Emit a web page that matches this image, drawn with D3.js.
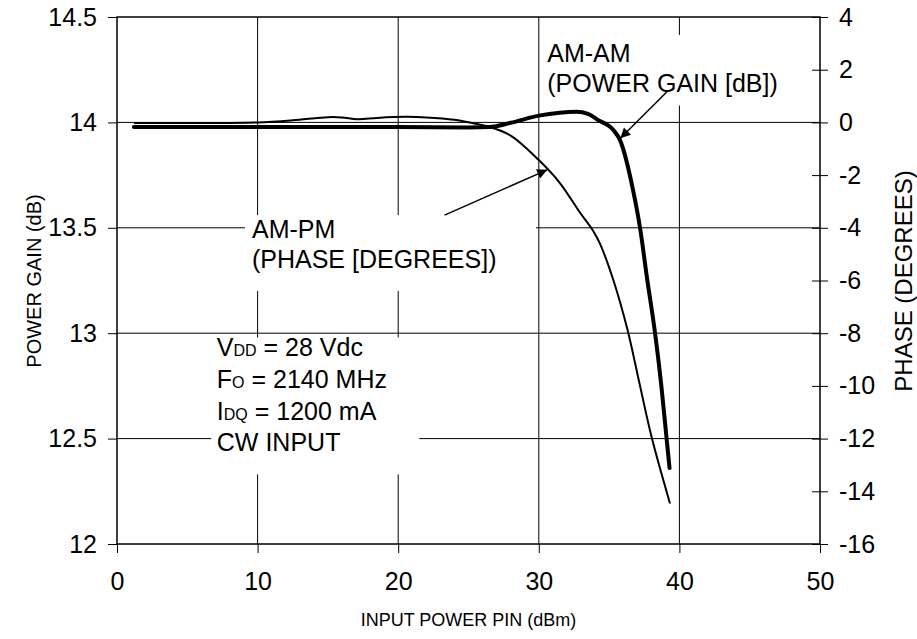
<!DOCTYPE html>
<html>
<head>
<meta charset="utf-8">
<script src="https://cdn.jsdelivr.net/npm/d3@7"></script>
<style>
  body { margin: 0; background: #fff; }
  text { font-family: "Liberation Sans", Arial, sans-serif; fill: #000; }
</style>
</head>
<body>
<div id="chart"></div>
<script>
// values
var pinTicks = [0, 10, 20, 30, 40, 50];
var gainTicks = [12, 12.5, 13, 13.5, 14, 14.5];
var phaseTicks = [-16, -14, -12, -10, -8, -6, -4, -2, 0, 2, 4];

// AM-AM : power gain (dB) vs input power (dBm)
var gainPin = [1.2, 5, 10, 15, 20, 25, 26.5, 28, 30, 31.5, 32.7, 33.5, 34.2, 35.3, 35.77, 36.7, 37.2, 37.7, 38.27, 38.7, 39.09, 39.3];
var gainDb  = [13.978, 13.978, 13.978, 13.978, 13.978, 13.976, 13.978, 13.998, 14.032, 14.046, 14.05, 14.04, 14.012, 13.964, 13.917, 13.68, 13.5, 13.26, 13.0, 12.76, 12.5, 12.36];

// AM-PM : phase (degrees) vs input power (dBm)
var phasePin = [1.2, 5, 10, 12.5, 15, 16, 17.1, 18.5, 20.5, 22, 24, 25.5, 26.5, 28, 30, 31.5, 32.9, 33.85, 34.35, 35.3, 36.3, 37.2, 38.05, 39.33];
var phaseDeg = [-0.02, -0.02, 0.0, 0.08, 0.2, 0.19, 0.12, 0.17, 0.21, 0.19, 0.1, -0.05, -0.17, -0.5, -1.43, -2.3, -3.4, -4.1, -4.6, -5.98, -7.85, -10.0, -12.0, -14.46];

// test conditions
var condLines = [
  ["V", "DD", " = 28 Vdc"],
  ["F", "O", " = 2140 MHz"],
  ["I", "DQ", " = 1200 mA"],
  ["CW INPUT", "", ""]
];

var margin = { top: 17, right: 97, bottom: 95, left: 117 },
  width = 917 - margin.left - margin.right,
  height = 639 - margin.top - margin.bottom;

var svg = d3.select("#chart").append("svg")
  .attr("width", 917)
  .attr("height", 639);

var g = svg.append("g")
  .attr("transform", "translate(" + margin.left + "," + margin.top + ")");

var x = d3.scaleLinear().domain([0, 50]).range([0, width]);
var yGain = d3.scaleLinear().domain([12, 14.5]).range([height, 0]);
var yPhase = d3.scaleLinear().domain([-16, 4]).range([height, 0]);

// grid
g.append("g").selectAll("line")
  .data(pinTicks.slice(1, -1))
  .enter().append("line")
    .attr("x1", function (d) { return x(d); })
    .attr("x2", function (d) { return x(d); })
    .attr("y1", 0).attr("y2", height)
    .attr("stroke", "#000").attr("stroke-width", 1);

g.append("g").selectAll("line")
  .data(gainTicks.slice(1, -1))
  .enter().append("line")
    .attr("x1", 0).attr("x2", width)
    .attr("y1", function (d) { return yGain(d); })
    .attr("y2", function (d) { return yGain(d); })
    .attr("stroke", "#000").attr("stroke-width", 1);

// white boxes behind the labels hide the grid
function blank(x0, y0, x1, y1) {
  g.append("rect")
    .attr("x", x(x0)).attr("y", yGain(y0))
    .attr("width", x(x1) - x(x0)).attr("height", yGain(y1) - yGain(y0))
    .attr("fill", "#fff");
}
blank(30.1, 14.415, 47.5, 14.08);   // AM-AM label
blank(9.1, 13.56, 29.8, 13.2);      // AM-PM label
blank(6.7, 12.98, 21.5, 12.33);     // conditions

// frame
g.append("rect")
  .attr("width", width).attr("height", height)
  .attr("fill", "none").attr("stroke", "#000").attr("stroke-width", 1.5);

// axes
var fs = "25px";
var axL = g.append("g")
  .call(d3.axisLeft(yGain).tickValues(gainTicks).tickSize(9).tickPadding(11)
    .tickFormat(function (d) { return d3.format("")(d); }));
var axR = g.append("g")
  .attr("transform", "translate(" + width + ",0)")
  .call(d3.axisRight(yPhase).tickValues(phaseTicks).tickSize(8).tickPadding(11));
var axB = g.append("g")
  .attr("transform", "translate(0," + height + ")")
  .call(d3.axisBottom(x).tickValues(pinTicks).tickSize(9).tickPadding(19));

[axL, axR, axB].forEach(function (a) {
  a.select(".domain").remove();
  a.selectAll(".tick line").attr("stroke", "#000").attr("stroke-width", 1);
  a.selectAll("text")
    .style("font-family", "'Liberation Sans', Arial, sans-serif")
    .style("font-size", fs).attr("fill", "#000");
});
axR.selectAll(".tick line").attr("x1", -8);
axR.selectAll("text").text(function (d) { return d < 0 ? "-" + Math.abs(d) : d; });

// curves
var gainData = gainPin.map(function (p, i) { return [p, gainDb[i]]; });
var phaseData = phasePin.map(function (p, i) { return [p, phaseDeg[i]]; });

g.append("path")
  .datum(phaseData)
  .attr("fill", "none").attr("stroke", "#000").attr("stroke-width", 2)
  .attr("d", d3.line()
    .curve(d3.curveCatmullRom.alpha(0.5))
    .x(function (d) { return x(d[0]); })
    .y(function (d) { return yPhase(d[1]); }));

g.append("path")
  .datum(gainData)
  .attr("fill", "none").attr("stroke", "#000").attr("stroke-width", 4)
  .attr("stroke-linecap", "round")
  .attr("d", d3.line()
    .curve(d3.curveMonotoneX)
    .x(function (d) { return x(d[0]); })
    .y(function (d) { return yGain(d[1]); }));

// annotations
var defs = svg.append("defs");
defs.append("marker")
  .attr("id", "arr")
  .attr("viewBox", "0 0 10 10")
  .attr("refX", 10).attr("refY", 5)
  .attr("markerWidth", 14).attr("markerHeight", 10)
  .attr("markerUnits", "userSpaceOnUse")
  .attr("orient", "auto")
  .append("path").attr("d", "M0,0 L10,5 L0,10 z").attr("fill", "#000");

function arrow(p0, v0, p1, v1) {
  g.append("line")
    .attr("x1", x(p0)).attr("y1", yGain(v0))
    .attr("x2", x(p1)).attr("y2", yGain(v1))
    .attr("stroke", "#000").attr("stroke-width", 1.5)
    .attr("marker-end", "url(#arr)");
}
arrow(39.1, 14.144, 35.8, 13.925);   // to AM-AM
arrow(23.3, 13.56, 30.6, 13.775);    // to AM-PM

function label(px, v, lines) {
  var t = g.append("text")
    .attr("x", x(px)).attr("y", yGain(v))
    .style("font-size", fs);
  lines.forEach(function (s, i) {
    t.append("tspan").attr("x", x(px)).attr("dy", i ? 30 : 0).text(s);
  });
}
label(30.6, 14.285, ["AM-AM", "(POWER GAIN [dB])"]);
label(9.6, 13.45, ["AM-PM", "(PHASE [DEGREES])"]);

condLines.forEach(function (c, i) {
  var t = g.append("text")
    .attr("x", x(7.1)).attr("y", yGain(12.89) + i * 31.7)
    .style("font-size", fs);
  t.append("tspan").text(c[0]);
  if (c[1]) t.append("tspan").style("font-size", "16px").text(c[1]);
  if (c[2]) t.append("tspan").text(c[2]);
});

// axis titles
svg.append("text")
  .attr("transform", "translate(41,281) rotate(-90)")
  .attr("text-anchor", "middle")
  .style("font-size", "20px")
  .text("POWER GAIN (dB)");

svg.append("text")
  .attr("transform", "translate(912,281) rotate(-90)")
  .attr("text-anchor", "middle")
  .style("font-size", "24px")
  .text("PHASE (DEGREES)");

svg.append("text")
  .attr("x", margin.left + width / 2)
  .attr("y", 626)
  .attr("text-anchor", "middle")
  .style("font-size", "18px")
  .text("INPUT POWER PIN (dBm)");
</script>
</body>
</html>
